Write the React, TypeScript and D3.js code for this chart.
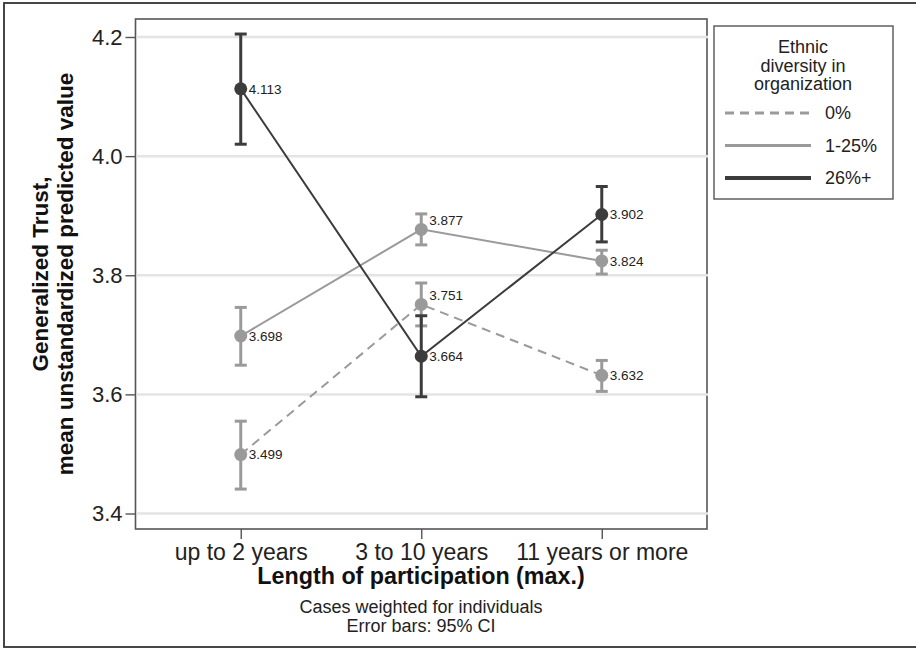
import { useEffect, useRef } from 'react'
import * as d3 from 'd3'

// values
const categories = ['up to 2 years', '3 to 10 years', '11 years or more']
const groups = ['0%', '1-25%', '26%+']

const mean0 = [3.499, 3.751, 3.632]
const low0 = [3.441, 3.715, 3.605]
const high0 = [3.555, 3.787, 3.657]

const mean1 = [3.698, 3.877, 3.824]
const low1 = [3.649, 3.851, 3.802]
const high1 = [3.746, 3.903, 3.842]

const mean2 = [4.113, 3.664, 3.902]
const low2 = [4.02, 3.596, 3.856]
const high2 = [4.205, 3.732, 3.949]

const yTicks = [3.4, 3.6, 3.8, 4.0, 4.2]
const legendTitle = ['Ethnic', 'diversity in', 'organization']
const footnotes = ['Cases weighted for individuals', 'Error bars: 95% CI']

const FONT = '"Liberation Sans", Arial, Helvetica, sans-serif'

export default function App() {
  const svgRef = useRef<SVGSVGElement>(null)

  useEffect(() => {
    if (!svgRef.current) return
    document.body.style.margin = '0'

    const svg = d3.select(svgRef.current)
    svg.selectAll('*').remove()
    svg.attr('width', 916).attr('height', 649).style('font-family', FONT)

    const plot = { left: 135.5, top: 19, right: 707, bottom: 529 }

    const x = d3.scalePoint<string>()
      .domain(categories)
      .range([plot.left, plot.right])
      .padding(0.583)

    const y = d3.scaleLinear()
      .domain([3.4, 4.2])
      .range([513.5, 37])

    // outer frame
    svg.append('rect')
      .attr('x', 4).attr('y', 3)
      .attr('width', 930).attr('height', 644)
      .attr('fill', 'white')
      .attr('stroke', '#333')
      .attr('stroke-width', 1.8)

    // plot frame
    svg.append('rect')
      .attr('x', plot.left).attr('y', plot.top)
      .attr('width', plot.right - plot.left)
      .attr('height', plot.bottom - plot.top)
      .attr('fill', 'white')
      .attr('stroke', '#555')
      .attr('stroke-width', 1.6)

    // grid lines
    svg.selectAll('.grid')
      .data(yTicks)
      .enter().append('line')
      .attr('x1', plot.left + 1).attr('x2', plot.right + 1)
      .attr('y1', d => y(d)).attr('y2', d => y(d))
      .attr('stroke', '#e4e4e4')
      .attr('stroke-width', 2.5)

    // y axis
    const yAxis = svg.append('g')
      .attr('transform', `translate(${plot.left},0)`)
      .call(d3.axisLeft(y).tickValues(yTicks).tickSize(10).tickPadding(3).tickFormat(d3.format('.1f')))
    yAxis.select('.domain').remove()
    yAxis.selectAll('line').attr('stroke', '#555').attr('stroke-width', 1.4)
    yAxis.selectAll('text')
      .style('font-size', '22px')
      .style('font-family', FONT)
      .attr('fill', '#222')

    // x axis
    const xAxis = svg.append('g')
      .attr('transform', `translate(0,${plot.bottom})`)
      .call(d3.axisBottom(x).tickSize(10).tickPadding(5))
    xAxis.select('.domain').remove()
    xAxis.selectAll('line').attr('stroke', '#555').attr('stroke-width', 1.4)
    xAxis.selectAll('text')
      .style('font-size', '23px')
      .style('font-family', FONT)
      .attr('fill', '#222')

    // axis titles
    svg.append('text')
      .attr('x', 421).attr('y', 584)
      .attr('text-anchor', 'middle')
      .style('font-size', '23.3px')
      .style('font-weight', 'bold')
      .attr('fill', '#111')
      .text('Length of participation (max.)')

    const yTitle = svg.append('text')
      .attr('transform', 'translate(48,274) rotate(-90)')
      .attr('text-anchor', 'middle')
      .style('font-size', '22.5px')
      .style('font-weight', 'bold')
      .attr('fill', '#111')
    yTitle.append('tspan').attr('x', 0).attr('y', 0).text('Generalized Trust,')
    yTitle.append('tspan').attr('x', 0).attr('y', 25).text('mean unstandardized predicted value')

    svg.selectAll('.foot')
      .data(footnotes)
      .enter().append('text')
      .attr('x', 421)
      .attr('y', (d, i) => 613 + i * 19)
      .attr('text-anchor', 'middle')
      .style('font-size', '18px')
      .attr('fill', '#222')
      .text(d => d)

    // series
    const series = [
      { name: groups[0], mean: mean0, low: low0, high: high0, color: '#9a9a9a', dash: '9,6', shift: [0, -9, 0] },
      { name: groups[1], mean: mean1, low: low1, high: high1, color: '#9a9a9a', dash: null, shift: [0, -9, 0] },
      { name: groups[2], mean: mean2, low: low2, high: high2, color: '#3c3c3c', dash: null, shift: [0, 0, 0] }
    ]

    const line = d3.line<number>()
      .x((d, i) => x(categories[i])!)
      .y(d => y(d))

    series.forEach(s => {
      const g = svg.append('g')

      g.append('path')
        .datum(s.mean)
        .attr('d', line)
        .attr('fill', 'none')
        .attr('stroke', s.color)
        .attr('stroke-width', 2)
        .attr('stroke-dasharray', s.dash)

      s.mean.forEach((m, i) => {
        const cx = x(categories[i])!
        g.append('line')
          .attr('x1', cx).attr('x2', cx)
          .attr('y1', y(s.low[i])).attr('y2', y(s.high[i]))
          .attr('stroke', s.color).attr('stroke-width', 3)
        ;[s.low[i], s.high[i]].forEach(v => {
          g.append('line')
            .attr('x1', cx - 6).attr('x2', cx + 6)
            .attr('y1', y(v)).attr('y2', y(v))
            .attr('stroke', s.color).attr('stroke-width', 3)
        })
        g.append('circle')
          .attr('cx', cx).attr('cy', y(m))
          .attr('r', 6.5)
          .attr('fill', s.color)
        g.append('text')
          .attr('x', cx + 8)
          .attr('y', y(m) + s.shift[i])
          .attr('dy', '0.35em')
          .style('font-size', '13.5px')
          .attr('fill', '#222')
          .text(d3.format('.3f')(m))
      })
    })

    // legend
    const legend = svg.append('g')
    legend.append('rect')
      .attr('x', 714).attr('y', 26)
      .attr('width', 179).attr('height', 173)
      .attr('fill', 'white')
      .attr('stroke', '#555')
      .attr('stroke-width', 1.4)

    legend.selectAll('.ltitle')
      .data(legendTitle)
      .enter().append('text')
      .attr('x', 803)
      .attr('y', (d, i) => 53 + i * 18.5)
      .attr('text-anchor', 'middle')
      .style('font-size', '18px')
      .attr('fill', '#222')
      .text(d => d)

    series.forEach((s, i) => {
      const ly = 113 + i * 32.5
      legend.append('line')
        .attr('x1', 725).attr('x2', 811)
        .attr('y1', ly).attr('y2', ly)
        .attr('stroke', s.color)
        .attr('stroke-width', i === 2 ? 4 : 3)
        .attr('stroke-dasharray', s.dash)
      legend.append('text')
        .attr('x', 825).attr('y', ly)
        .attr('dy', '0.35em')
        .style('font-size', '18px')
        .attr('fill', '#222')
        .text(s.name)
    })
  }, [])

  return <svg ref={svgRef} style={{ display: 'block' }}></svg>
}
